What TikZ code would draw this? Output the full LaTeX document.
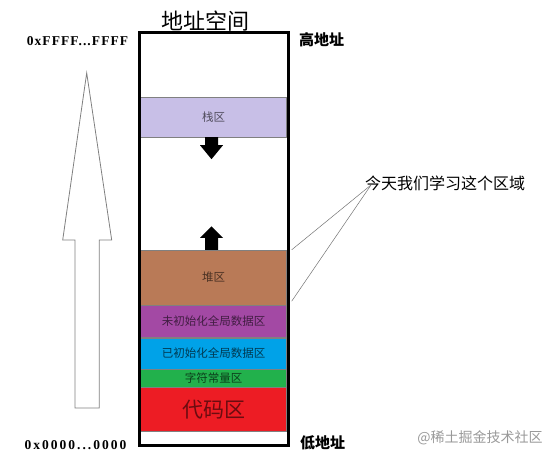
\documentclass[tikz,border=0pt]{standalone}
\usepackage{fontspec}
\setmainfont{Liberation Serif}
\newfontfamily\cjk{Noto Sans CJK SC}
\newfontfamily\addrfont[LetterSpace=8]{Liberation Serif}
\usetikzlibrary{positioning,calc}
\definecolor{stackc}{RGB}{200,191,231}
\definecolor{heapc}{RGB}{185,122,87}
\definecolor{bssc}{RGB}{163,73,164}
\definecolor{datac}{RGB}{0,162,232}
\definecolor{rodatac}{RGB}{34,177,76}
\definecolor{codec}{RGB}{237,28,36}

\begin{document}
\begin{tikzpicture}[x=1pt,y=-1pt,
    region/.style={draw=black!50, line width=0.4pt, minimum width=146pt,
        inner sep=0pt, font=\cjk\fontsize{11.5}{11.5}\selectfont},
    addr/.style={font=\addrfont\bfseries\fontsize{13.5}{13.5}\selectfont, inner sep=0pt},
    side/.style={font=\cjk\bfseries\fontsize{15}{15}\selectfont, inner sep=0pt, anchor=west},
    growth/.style={fill=black},
    pointer/.style={draw=black!55, line width=0.5pt}]
    \useasboundingbox (0,0) rectangle (560,457);

    % memory regions
    \node[region, fill=stackc, text=stackc!40!black, minimum height=40pt] (stack) at (213.5,117) {栈区};
    \node[region, fill=heapc, text=heapc!40!black, minimum height=55pt] (heap) at (213.5,277.5) {堆区};
    \node[region, fill=bssc, text=bssc!40!black, minimum height=32pt, below=0pt of heap] (bss) {未初始化全局数据区};
    \node[region, fill=datac, text=datac!35!black, minimum height=31pt, below=0pt of bss] (data) {已初始化全局数据区};
    \node[region, fill=rodatac, text=rodatac!35!black, minimum height=18pt, below=0pt of data] (rodata) {字符常量区};
    \node[region, fill=codec, text=codec!45!black, minimum height=44pt, below=0pt of rodata,
        font=\cjk\fontsize{21}{21}\selectfont] (code) {代码区};

    % outer frame and title
    \node[draw, line width=3pt, minimum width=149pt, minimum height=412pt, inner sep=0pt] (space) at (213.5,239) {};
    \node[font=\cjk\fontsize{22}{22}\selectfont, inner sep=0pt, above=0pt of space.north, xshift=-8.5pt] (title) {地址空间};

    % growth directions
    \coordinate (down) at ($(stack.south)+(-2,0)$);
    \coordinate (up) at ($(heap.north)+(-2,0)$);
    \fill[growth] (down) ++(-6.5,0) -- ++(13,0) -- ++(0,8) -- ++(5,0) -- ++(-11.5,14) -- ++(-11.5,-14) -- ++(5,0) -- cycle;
    \fill[growth] (up) ++(-6.5,0) -- ++(0,-12) -- ++(-5,0) -- ++(11.5,-11.5) -- ++(11.5,11.5) -- ++(-5,0) -- ++(0,12) -- cycle;

    % addresses
    \node[addr] (hiaddr) at (77.5,41.5) {0xFFFF...FFFF};
    \node[addr] (loaddr) at (75.5,445) {\addfontfeature{LetterSpace=15}0x0000...0000};
    \node[side] (high) at (299,40) {高地址};
    \node[side] (low) at (300,443) {低地址};

    % big arrow
    \draw[black!50, line width=0.8pt] (86.7,73) -- (111.7,240) -- (99.3,240) -- (99.3,408)
        -- (75,408) -- (75,240) -- (62.7,240) -- cycle;

    % note
    \node[font=\cjk\fontsize{16}{16}\selectfont, inner sep=0pt, anchor=west] (note) at (365,183) {今天我们学习这个区域};
    \coordinate (meet) at ($(note.west)+(6,2)$);
    \draw[pointer] (meet) -- ([xshift=5pt]heap.north east);
    \draw[pointer] (meet) -- ([xshift=5pt,yshift=4pt]heap.south east);

    \node[font=\cjk\fontsize{14}{14}\selectfont, text=black!40, inner sep=0pt] (mark) at (480,438) {@稀土掘金技术社区};
\end{tikzpicture}
\end{document}
